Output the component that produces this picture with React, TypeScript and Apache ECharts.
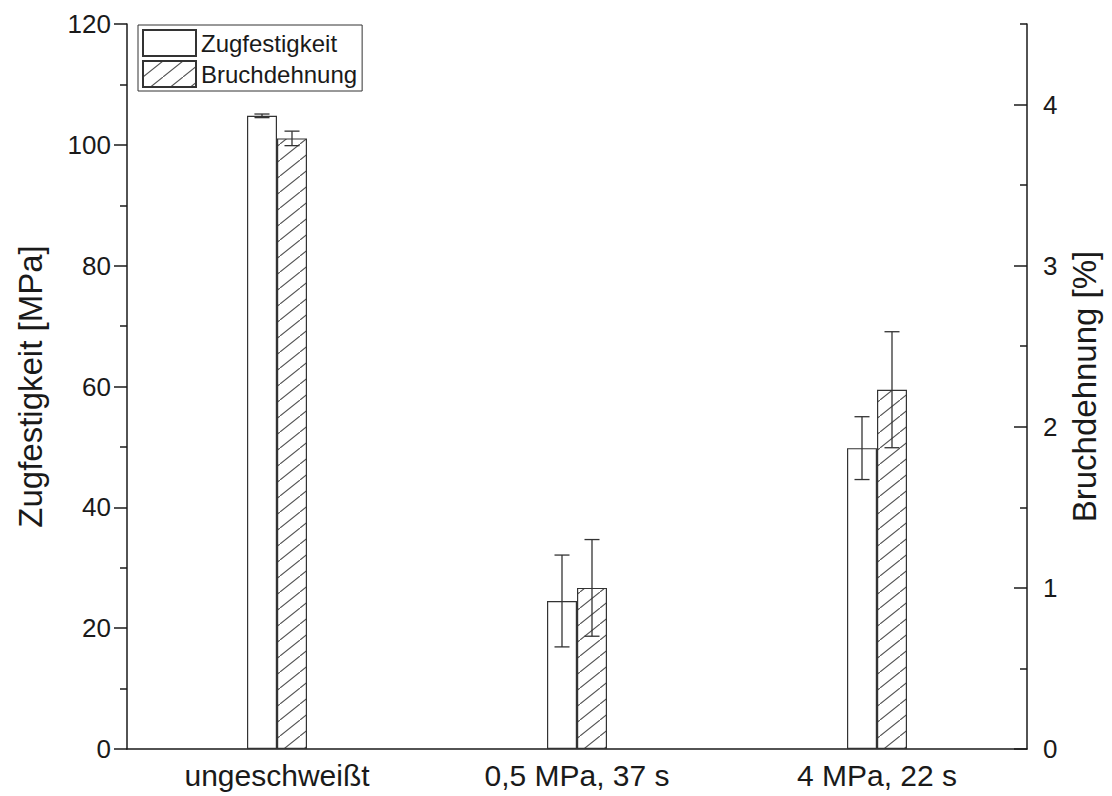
import { useEffect, useRef } from "react";
import * as echarts from "echarts";

// Kategorien und Messwerte
const categories = ["ungeschweißt", "0,5 MPa, 37 s", "4 MPa, 22 s"];
const zugfestigkeit = [104.8, 24.5, 49.8];
const zugfestigkeitErr = [0.3, 7.6, 5.2];
const bruchdehnung = [3.79, 1.0, 2.23];
const bruchdehnungErr = [0.045, 0.3, 0.36];

// Achsenteilung
const leftMax = 120;
const leftInterval = 20;
const rightMax = 4.5;
const rightMajorTicks = [0, 1, 2, 3, 4];
const rightMinorTicks = [0.5, 1.5, 2.5, 3.5, 4.5];

const FONT = "'Liberation Sans', Arial, sans-serif";
const INK = "#1a1a1a";
const BAR_WIDTH = 30;

function makeHatch(): HTMLCanvasElement {
  const w = 20;
  const h = 16;
  const c = document.createElement("canvas");
  c.width = w;
  c.height = h;
  const ctx = c.getContext("2d")!;
  ctx.fillStyle = "#ffffff";
  ctx.fillRect(0, 0, w, h);
  ctx.strokeStyle = "#555555";
  ctx.lineWidth = 1.1;
  ctx.lineCap = "square";
  ctx.beginPath();
  ctx.moveTo(0, h);
  ctx.lineTo(w, 0);
  ctx.stroke();
  return c;
}

function errorBars(values: number[], errs: number[], yAxisIndex: number, offset: number) {
  return {
    type: "custom",
    yAxisIndex,
    z: 10,
    silent: true,
    data: categories.map((_, i) => [i, values[i] - errs[i], values[i] + errs[i]]),
    encode: { x: 0, y: [1, 2] },
    renderItem: (_params: any, api: any) => {
      const lo = api.coord([api.value(0), api.value(1)]);
      const hi = api.coord([api.value(0), api.value(2)]);
      const x = lo[0] + offset;
      const half = 7.5;
      const style = { stroke: "#333", lineWidth: 1.3 };
      return {
        type: "group",
        children: [
          { type: "line", shape: { x1: x, y1: hi[1], x2: x, y2: lo[1] }, style },
          { type: "line", shape: { x1: x - half, y1: hi[1], x2: x + half, y2: hi[1] }, style },
          { type: "line", shape: { x1: x - half, y1: lo[1], x2: x + half, y2: lo[1] }, style },
        ],
      };
    },
  };
}

export default function App() {
  const ref = useRef<HTMLDivElement>(null);

  useEffect(() => {
    if (!ref.current) return;
    const chart = echarts.init(ref.current, undefined, { renderer: "svg" });
    const hatch = makeHatch();
    const axisLine = { show: true, lineStyle: { color: INK, width: 1.5 } };

    chart.setOption({
      animation: false,
      backgroundColor: "#ffffff",
      textStyle: { fontFamily: FONT },
      grid: { left: 127, right: 85, top: 24, bottom: 47, containLabel: false },
      legend: {
        orient: "vertical",
        left: 138,
        top: 25,
        itemWidth: 53,
        itemHeight: 26,
        itemGap: 3,
        padding: [4, 5, 3, 4],
        borderColor: "#333",
        borderWidth: 1,
        icon: "rect",
        textStyle: { fontSize: 24, color: INK, fontFamily: FONT },
        data: ["Zugfestigkeit", "Bruchdehnung"],
      },
      xAxis: {
        type: "category",
        data: categories,
        axisLine,
        axisTick: { show: false },
        axisLabel: { fontSize: 30, color: INK, margin: 11, fontFamily: FONT },
      },
      yAxis: [
        {
          type: "value",
          position: "left",
          min: 0,
          max: leftMax,
          interval: leftInterval,
          axisLine,
          axisTick: { show: true, length: 13, lineStyle: { color: INK, width: 1.5 } },
          minorTick: { show: true, splitNumber: 2, length: 7, lineStyle: { color: INK, width: 1.5 } },
          splitLine: { show: false },
          axisLabel: { fontSize: 26, color: INK, margin: 16, fontFamily: FONT },
          name: "Zugfestigkeit [MPa]",
          nameLocation: "middle",
          nameRotate: 90,
          nameGap: 80,
          nameTextStyle: { fontSize: 33, color: INK, fontFamily: FONT },
        },
        {
          type: "value",
          position: "right",
          min: 0,
          max: rightMax,
          interval: 1,
          axisLine,
          axisTick: {
            show: true,
            inside: true,
            length: 13,
            customValues: rightMajorTicks,
            lineStyle: { color: INK, width: 1.5 },
          },
          splitLine: { show: false },
          axisLabel: {
            fontSize: 26,
            color: INK,
            margin: 16,
            fontFamily: FONT,
            customValues: rightMajorTicks,
          },
          name: "Bruchdehnung [%]",
          nameLocation: "middle",
          nameRotate: 90,
          nameGap: 39,
          nameTextStyle: { fontSize: 33, color: INK, fontFamily: FONT },
        },
        {
          type: "value",
          position: "right",
          min: 0,
          max: rightMax,
          interval: 0.5,
          axisLine: { show: false },
          axisTick: {
            show: true,
            inside: true,
            length: 7,
            customValues: rightMinorTicks,
            lineStyle: { color: INK, width: 1.5 },
          },
          axisLabel: { show: false },
          splitLine: { show: false },
        },
      ],
      series: [
        {
          name: "Zugfestigkeit",
          type: "bar",
          yAxisIndex: 0,
          barWidth: BAR_WIDTH,
          barGap: "0%",
          data: zugfestigkeit,
          itemStyle: { color: "#ffffff", borderColor: "#333", borderWidth: 1.2 },
        },
        {
          name: "Bruchdehnung",
          type: "bar",
          yAxisIndex: 1,
          barWidth: BAR_WIDTH,
          barGap: "0%",
          data: bruchdehnung,
          itemStyle: {
            color: { image: hatch, repeat: "repeat" },
            borderColor: "#333",
            borderWidth: 1.2,
          },
        },
        errorBars(zugfestigkeit, zugfestigkeitErr, 0, -BAR_WIDTH / 2),
        errorBars(bruchdehnung, bruchdehnungErr, 1, BAR_WIDTH / 2),
      ],
    });

    return () => chart.dispose();
  }, []);

  return (
    <div
      ref={ref}
      style={{ position: "fixed", left: 0, top: 0, width: 1112, height: 796, background: "#fff" }}
    />
  );
}
